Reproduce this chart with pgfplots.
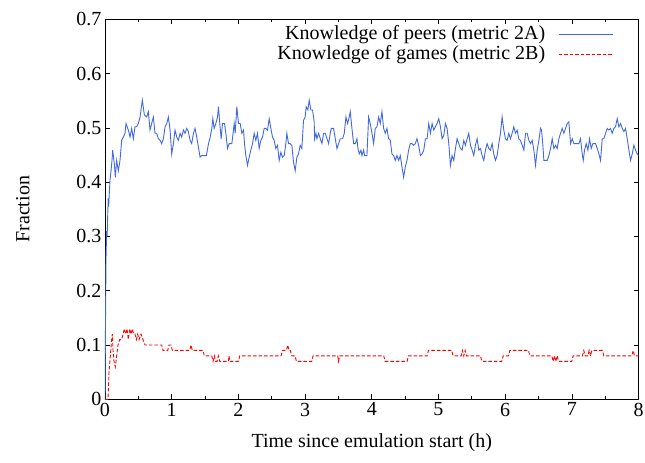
\documentclass[border=0pt]{standalone}
\usepackage{fontspec}
\setmainfont{Liberation Serif}
\usepackage{pgfplots}
\pgfplotsset{compat=1.18}
\usetikzlibrary{calc}

\definecolor{peerblue}{RGB}{65,105,225}
\definecolor{gamered}{RGB}{255,0,0}

% Metric 2A: fraction of peers known (time in hours)
\pgfplotstableread{
h v
0.000 0.000
0.008 0.150
0.015 0.260
0.025 0.310
0.032 0.300
0.040 0.336
0.048 0.370
0.055 0.355
0.065 0.380
0.075 0.404
0.090 0.420
0.105 0.440
0.115 0.459
0.140 0.434
0.155 0.409
0.175 0.440
0.200 0.421
0.225 0.440
0.250 0.477
0.275 0.483
0.300 0.490
0.315 0.508
0.350 0.496
0.375 0.483
0.400 0.499
0.425 0.480
0.450 0.502
0.475 0.502
0.500 0.508
0.525 0.520
0.560 0.551
0.590 0.524
0.625 0.520
0.650 0.530
0.675 0.496
0.700 0.508
0.725 0.520
0.750 0.490
0.775 0.490
0.800 0.480
0.826 0.477
0.850 0.471
0.876 0.480
0.900 0.502
0.926 0.508
0.950 0.520
0.976 0.496
1.000 0.452
1.026 0.471
1.050 0.496
1.076 0.483
1.100 0.477
1.126 0.490
1.150 0.483
1.176 0.496
1.200 0.490
1.226 0.499
1.250 0.493
1.276 0.477
1.300 0.471
1.326 0.490
1.350 0.499
1.376 0.483
1.400 0.465
1.426 0.446
1.450 0.449
1.476 0.449
1.520 0.449
1.552 0.471
1.577 0.483
1.602 0.499
1.617 0.517
1.637 0.499
1.662 0.508
1.687 0.520
1.702 0.539
1.717 0.514
1.742 0.480
1.762 0.508
1.792 0.508
1.812 0.490
1.837 0.462
1.862 0.471
1.902 0.471
1.917 0.486
1.937 0.508
1.952 0.490
1.977 0.539
2.002 0.508
2.027 0.508
2.052 0.490
2.077 0.496
2.092 0.471
2.112 0.449
2.137 0.431
2.162 0.446
2.187 0.459
2.212 0.471
2.237 0.490
2.262 0.477
2.287 0.490
2.312 0.462
2.337 0.477
2.362 0.483
2.387 0.499
2.412 0.499
2.437 0.496
2.462 0.517
2.487 0.499
2.512 0.483
2.537 0.477
2.562 0.462
2.587 0.468
2.612 0.440
2.637 0.455
2.662 0.446
2.687 0.449
2.712 0.471
2.727 0.490
2.752 0.471
2.777 0.471
2.802 0.468
2.827 0.437
2.852 0.421
2.877 0.446
2.902 0.452
2.927 0.468
2.952 0.462
2.977 0.514
3.002 0.520
3.017 0.539
3.042 0.533
3.062 0.551
3.087 0.533
3.112 0.533
3.137 0.511
3.143 0.480
3.163 0.490
3.178 0.480
3.203 0.490
3.228 0.480
3.253 0.471
3.278 0.490
3.303 0.490
3.353 0.471
3.378 0.490
3.393 0.499
3.428 0.499
3.453 0.480
3.478 0.462
3.503 0.471
3.528 0.480
3.563 0.480
3.588 0.490
3.613 0.520
3.638 0.508
3.663 0.520
3.678 0.530
3.703 0.499
3.728 0.471
3.753 0.471
3.778 0.480
3.793 0.462
3.813 0.452
3.838 0.459
3.853 0.449
3.878 0.459
3.893 0.449
3.928 0.449
3.953 0.520
3.978 0.508
4.003 0.490
4.028 0.471
4.053 0.499
4.078 0.502
4.103 0.520
4.128 0.508
4.153 0.530
4.178 0.499
4.203 0.490
4.228 0.499
4.253 0.480
4.278 0.477
4.303 0.452
4.328 0.449
4.353 0.440
4.378 0.449
4.403 0.440
4.428 0.449
4.453 0.428
4.478 0.409
4.503 0.428
4.528 0.440
4.553 0.459
4.578 0.471
4.603 0.471
4.628 0.468
4.653 0.471
4.678 0.480
4.703 0.468
4.730 0.449
4.755 0.452
4.780 0.459
4.805 0.480
4.830 0.480
4.855 0.508
4.880 0.490
4.905 0.508
4.930 0.496
4.955 0.502
4.980 0.508
5.005 0.517
5.030 0.502
5.055 0.480
5.080 0.486
5.105 0.508
5.130 0.499
5.155 0.471
5.180 0.431
5.205 0.449
5.230 0.440
5.255 0.462
5.280 0.480
5.305 0.471
5.330 0.462
5.355 0.459
5.380 0.477
5.405 0.468
5.430 0.480
5.455 0.490
5.480 0.468
5.505 0.459
5.530 0.449
5.555 0.468
5.580 0.480
5.605 0.459
5.630 0.462
5.655 0.449
5.680 0.440
5.705 0.459
5.730 0.471
5.755 0.462
5.780 0.459
5.805 0.471
5.830 0.452
5.855 0.440
5.880 0.449
5.905 0.471
5.930 0.490
5.955 0.520
5.980 0.496
6.005 0.480
6.030 0.477
6.055 0.490
6.080 0.480
6.105 0.490
6.130 0.502
6.155 0.490
6.180 0.496
6.205 0.480
6.230 0.477
6.256 0.468
6.281 0.459
6.306 0.490
6.331 0.490
6.356 0.477
6.381 0.471
6.406 0.477
6.431 0.459
6.456 0.431
6.481 0.459
6.506 0.477
6.531 0.499
6.546 0.496
6.566 0.468
6.581 0.440
6.631 0.440
6.656 0.449
6.681 0.462
6.706 0.480
6.731 0.462
6.756 0.468
6.781 0.462
6.806 0.480
6.831 0.490
6.856 0.499
6.881 0.490
6.906 0.499
6.931 0.508
6.956 0.511
6.981 0.471
7.006 0.480
7.031 0.471
7.106 0.471
7.131 0.480
7.156 0.452
7.171 0.440
7.191 0.459
7.216 0.471
7.241 0.459
7.266 0.480
7.291 0.462
7.316 0.471
7.356 0.471
7.381 0.462
7.406 0.452
7.431 0.440
7.456 0.480
7.481 0.480
7.506 0.490
7.531 0.499
7.556 0.496
7.581 0.499
7.606 0.490
7.631 0.499
7.656 0.502
7.681 0.517
7.706 0.502
7.731 0.508
7.756 0.499
7.781 0.493
7.806 0.499
7.831 0.480
7.856 0.459
7.881 0.440
7.906 0.452
7.931 0.468
7.956 0.459
7.981 0.452
8.000 0.449
}\peers

% Metric 2B: fraction of games known
\pgfplotstableread{
h v
0.000 0.00
0.045 0.00
0.060 0.05
0.080 0.08
0.100 0.11
0.110 0.12
0.120 0.09
0.135 0.07
0.155 0.06
0.175 0.08
0.195 0.10
0.220 0.11
0.250 0.11
0.270 0.12
0.290 0.13
0.310 0.12
0.330 0.13
0.350 0.11
0.370 0.13
0.390 0.12
0.410 0.13
0.430 0.12
0.450 0.12
0.470 0.11
0.490 0.12
0.510 0.11
0.540 0.12
0.570 0.11
0.600 0.10
0.850 0.10
0.870 0.09
0.940 0.09
0.960 0.10
0.990 0.10
1.010 0.09
1.270 0.09
1.290 0.10
1.310 0.09
1.470 0.09
1.490 0.08
1.600 0.08
1.620 0.07
1.640 0.08
1.660 0.07
1.680 0.07
1.700 0.08
1.720 0.07
1.850 0.07
1.860 0.08
1.870 0.07
2.000 0.07
2.020 0.08
2.640 0.08
2.660 0.09
2.720 0.09
2.740 0.10
2.760 0.09
2.780 0.09
2.800 0.08
2.850 0.08
2.870 0.07
3.100 0.07
3.120 0.08
3.490 0.08
3.500 0.07
3.520 0.08
4.180 0.08
4.200 0.07
4.530 0.07
4.550 0.08
4.830 0.08
4.850 0.09
5.200 0.09
5.220 0.08
5.340 0.08
5.360 0.09
5.380 0.08
5.400 0.09
5.420 0.08
5.630 0.08
5.650 0.07
5.950 0.07
5.970 0.08
6.050 0.08
6.070 0.09
6.350 0.09
6.370 0.08
6.700 0.08
6.720 0.07
6.740 0.08
6.760 0.07
6.780 0.08
6.800 0.07
7.000 0.07
7.020 0.08
7.160 0.08
7.180 0.09
7.200 0.08
7.240 0.08
7.260 0.09
7.280 0.08
7.300 0.09
7.460 0.09
7.480 0.08
7.900 0.08
7.920 0.09
7.940 0.08
8.000 0.08
}\games

\begin{document}
\begin{tikzpicture}
\begin{axis}[
  scale only axis,
  width=533.5bp, height=380bp,
  xmin=0, xmax=8, ymin=0, ymax=0.7,
  xtick={0,1,...,8},
  minor x tick num=1,
  ytick={0,0.1,0.2,0.3,0.4,0.5,0.6,0.7},
  yticklabels={0,0.1,0.2,0.3,0.4,0.5,0.6,0.7},
  tick align=inside,
  major tick length=5bp,
  minor tick length=3bp,
  tick style={black, line width=0.6bp},
  axis line style={black, line width=0.8bp},
  font=\fontsize{20bp}{24bp}\selectfont,
  /pgf/number format/assume math mode=true,
  xlabel={Time since emulation start (h)},
  ylabel={Fraction},
  xlabel style={at={(axis description cs:0.5,-0.115)}, anchor=center},
  ylabel style={at={(axis description cs:-0.154,0.5)}, anchor=center},
  legend plot pos=right,
  legend image code/.code={\draw[#1] (0bp,0bp) -- (54.7bp,0bp);},
  legend style={at={(axis description cs:0.954,0.985)}, anchor=north east,
    draw=none, fill=none, inner sep=0pt, row sep=2.7bp, column sep=13bp,
    legend cell align=right,
    nodes={inner sep=0pt, text height=14bp, text depth=4bp}},
]
\addplot[peerblue, line width=0.9bp] table[x=h, y=v] {\peers};
\addlegendentry{Knowledge of peers (metric 2A)}
\addplot[gamered, line width=0.9bp, dash pattern=on 3.5bp off 2bp] table[x=h, y=v] {\games};
\addlegendentry{Knowledge of games (metric 2B)}
\coordinate (bl) at (rel axis cs:0,0);
\coordinate (tr) at (rel axis cs:1,1);
\end{axis}
\pgfresetboundingbox
\path[use as bounding box] ($(bl)+(-105bp,-63.7bp)$) rectangle ($(tr)+(6.5bp,19.3bp)$);
\end{tikzpicture}
\end{document}
